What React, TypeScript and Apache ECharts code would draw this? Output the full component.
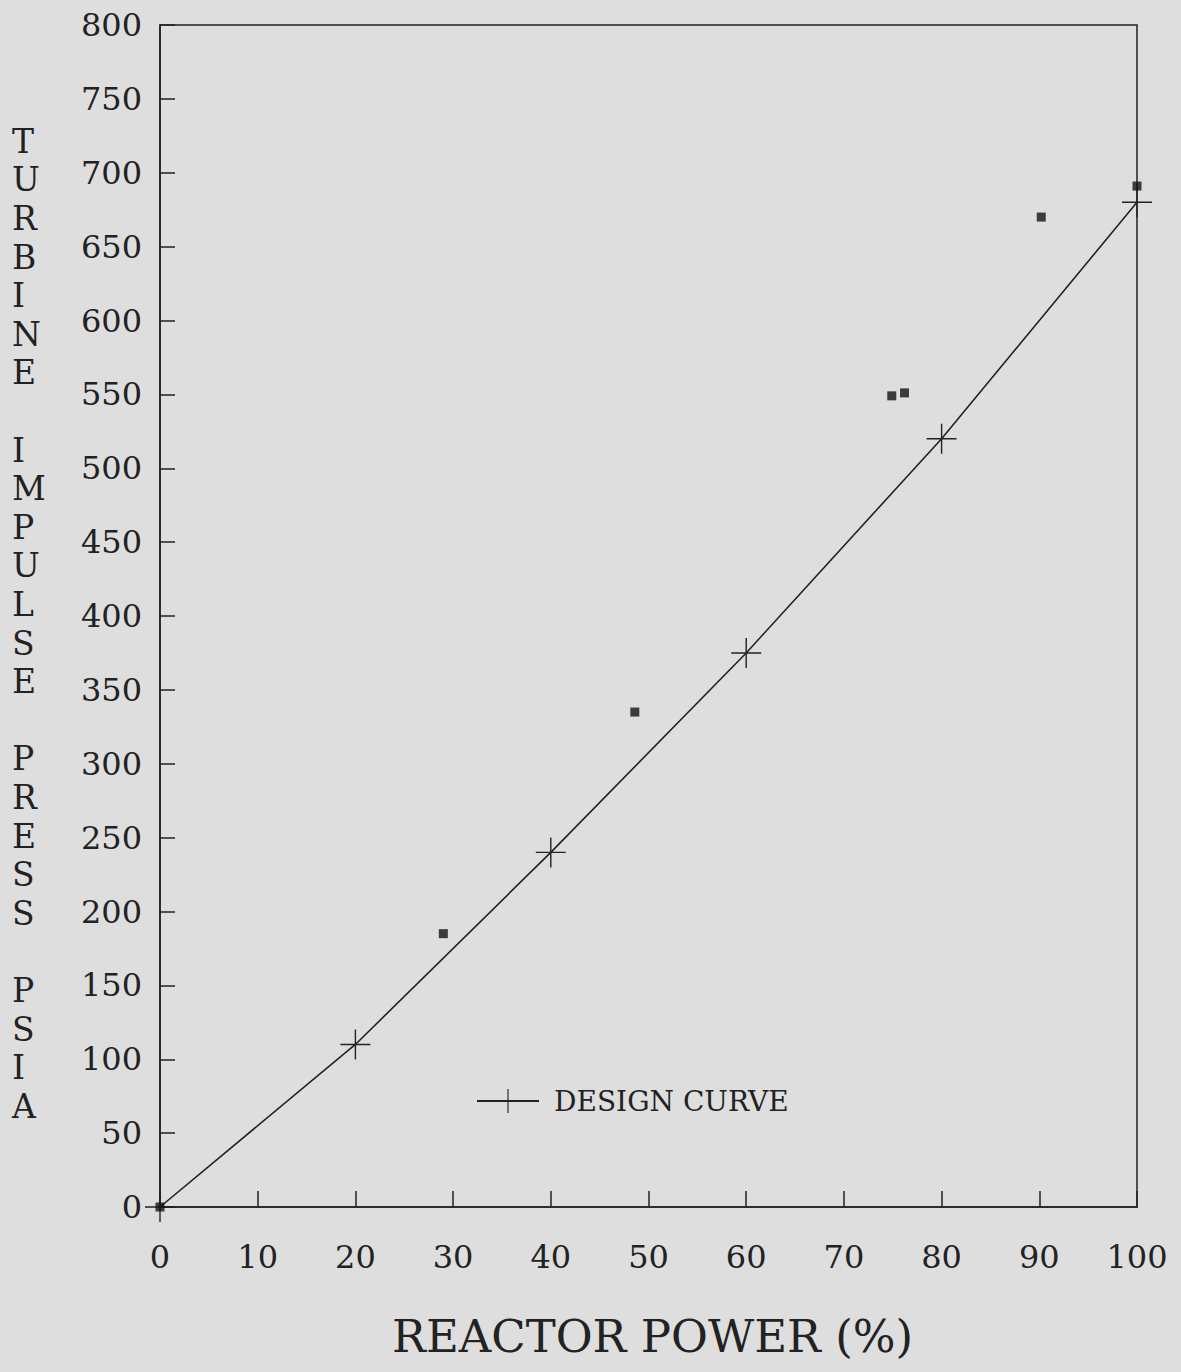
import React, { useEffect, useRef } from "react";
import * as echarts from "echarts";

// Design curve: turbine impulse pressure vs reactor power
const designPower = [0, 20, 40, 60, 80, 100];
const designPressure = [0, 110, 240, 375, 520, 680];

// Measured points
const measuredPower = [0, 29, 48.6, 74.9, 76.2, 90.2, 100];
const measuredPressure = [0, 185, 335, 549, 551, 670, 691];

const yTitleWords = ["TURBINE", "IMPULSE", "PRESS", "PSIA"];
const xTitle = "REACTOR POWER (%)";
const legendLabel = "DESIGN CURVE";

const INK = "#222222";
const FONT = "'DejaVu Serif', 'Liberation Serif', serif";
const CROSS = "path://M0,14.3h30v1.4h-30z M14.3,0h1.4v30h-1.4z";

export default function App() {
  const ref = useRef<HTMLDivElement>(null);

  useEffect(() => {
    if (!ref.current) return;
    const chart = echarts.init(ref.current, undefined, { renderer: "svg" });

    const verticalTitle = yTitleWords.map((w) => w.split("").join("\n")).join("\n\n");

    chart.setOption({
      animation: false,
      backgroundColor: "#dedede",
      grid: {
        left: 160,
        right: 44,
        top: 25,
        bottom: 165,
        show: true,
        borderColor: INK,
        borderWidth: 1.5,
        backgroundColor: "transparent",
      },
      legend: {
        data: [legendLabel],
        left: 471,
        top: 1082,
        itemWidth: 62,
        itemHeight: 30,
        itemGap: 17,
        textStyle: { fontFamily: FONT, fontSize: 28, color: INK, padding: [0, 0, 0, 10] },
      },
      xAxis: {
        type: "value",
        min: 0,
        max: 100,
        interval: 10,
        axisLine: { show: true, lineStyle: { color: INK, width: 1.5 } },
        axisTick: { show: true, inside: true, length: 16, lineStyle: { color: INK, width: 1.5 } },
        splitLine: { show: false },
        axisLabel: { fontFamily: FONT, fontSize: 32, color: INK, margin: 34 },
      },
      yAxis: {
        type: "value",
        min: 0,
        max: 800,
        interval: 50,
        axisLine: { show: true, lineStyle: { color: INK, width: 1.5 } },
        axisTick: { show: true, inside: true, length: 15, lineStyle: { color: INK, width: 1.5 } },
        splitLine: { show: false },
        axisLabel: { fontFamily: FONT, fontSize: 32, color: INK, margin: 18 },
      },
      graphic: [
        {
          type: "text",
          left: 12,
          top: 122,
          style: {
            text: verticalTitle,
            fontFamily: FONT,
            fontSize: 33,
            lineHeight: 38.6,
            fill: INK,
            align: "center",
            width: 34,
          },
        },
        {
          type: "text",
          left: 392,
          top: 1314,
          style: {
            text: xTitle,
            fontFamily: FONT,
            fontSize: 45,
            fill: INK,
          },
        },
      ],
      series: [
        {
          name: legendLabel,
          type: "line",
          data: designPower.map((x, i) => [x, designPressure[i]]),
          symbol: CROSS,
          symbolSize: 30,
          showAllSymbol: true,
          itemStyle: { color: INK },
          lineStyle: { color: INK, width: 1.6 },
          z: 3,
        },
        {
          name: "measured",
          type: "scatter",
          data: measuredPower.map((x, i) => [x, measuredPressure[i]]),
          symbol: "rect",
          symbolSize: 9,
          itemStyle: { color: "#111" },
          z: 4,
        },
      ],
    });

    return () => chart.dispose();
  }, []);

  return (
    <div
      ref={ref}
      style={{ position: "fixed", left: 0, top: 0, width: 1181, height: 1372 }}
    />
  );
}
